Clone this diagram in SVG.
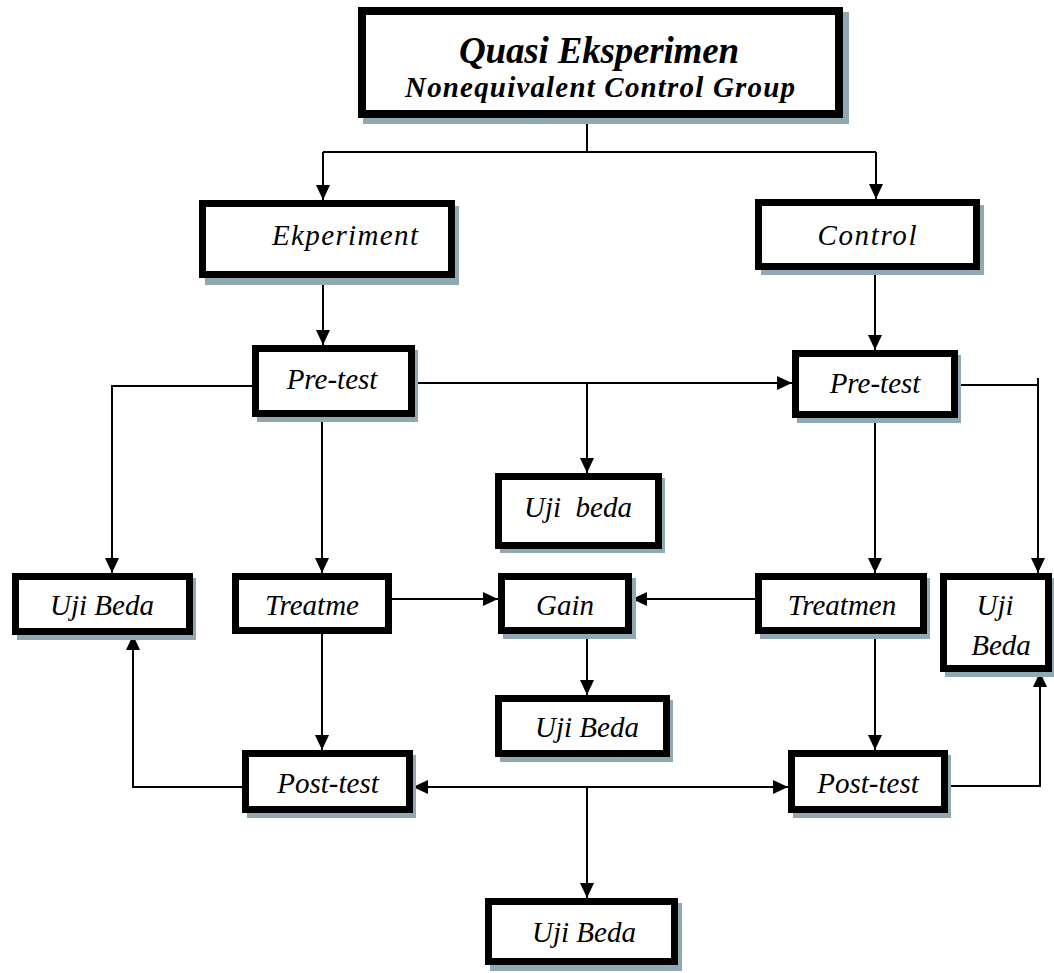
<svg xmlns="http://www.w3.org/2000/svg" width="1054" height="973" viewBox="0 0 1054 973">
<style>
.box{fill:#fff;stroke:#000;stroke-width:7}
.sh{fill:#8fa8b1}
.lbl{font-family:"Liberation Serif","Times New Roman",serif;font-style:italic;font-size:29px;fill:#000}
.ttl{font-family:"Liberation Serif","Times New Roman",serif;font-style:italic;font-weight:bold;fill:#000}
.ln{fill:none;stroke:#000;stroke-width:2}
</style>
<defs>
<marker id="ah" markerUnits="userSpaceOnUse" markerWidth="16" markerHeight="14" refX="15" refY="7" orient="auto-start-reverse">
<path d="M0,0 L15,7 L0,14 z" fill="#000"/>
</marker>
</defs>
<rect width="1054" height="973" fill="#fff"/>

<g id="connectors">
<path class="ln" d="M587,118 V152"/>
<path class="ln" d="M323,152 H876"/>
<path class="ln" d="M323,152 V200" marker-end="url(#ah)"/>
<path class="ln" d="M876,152 V199" marker-end="url(#ah)"/>
<path class="ln" d="M323,278 V345" marker-end="url(#ah)"/>
<path class="ln" d="M875,270 V350" marker-end="url(#ah)"/>
<path class="ln" d="M415,383 H792" marker-end="url(#ah)"/>
<path class="ln" d="M587,383 V473" marker-end="url(#ah)"/>
<path class="ln" d="M252,386 H112 V573" marker-end="url(#ah)"/>
<path class="ln" d="M958,385 H1038 V573" marker-end="url(#ah)"/>
<path class="ln" d="M1038,378 V385"/>
<path class="ln" d="M322,417 V573" marker-end="url(#ah)"/>
<path class="ln" d="M875,418 V573" marker-end="url(#ah)"/>
<path class="ln" d="M392,599 H498" marker-end="url(#ah)"/>
<path class="ln" d="M755,599 H632" marker-end="url(#ah)"/>
<path class="ln" d="M587,624 V695" marker-end="url(#ah)"/>
<path class="ln" d="M322,634 V750" marker-end="url(#ah)"/>
<path class="ln" d="M875,623 V750" marker-end="url(#ah)"/>
<path class="ln" d="M413,787 H788" marker-start="url(#ah)" marker-end="url(#ah)"/>
<path class="ln" d="M587,787 V898" marker-end="url(#ah)"/>
<path class="ln" d="M242,787 H133 V635" marker-end="url(#ah)"/>
<path class="ln" d="M948,786 H1040 V672" marker-end="url(#ah)"/>
</g>

<g id="title">
<rect class="sh" x="363" y="12" width="486" height="112"/>
<rect class="box" x="362" y="11" width="477" height="103" style="stroke-width:8"/>
<text class="ttl" x="599" y="63" font-size="37" text-anchor="middle" textLength="280" lengthAdjust="spacing">Quasi Eksperimen</text>
<text class="ttl" x="600" y="97" font-size="29" text-anchor="middle" textLength="390" lengthAdjust="spacing">Nonequivalent Control Group</text>
</g>

<g id="ekperiment">
<rect class="sh" x="205" y="206" width="254" height="79"/>
<rect class="box" x="202.5" y="203.5" width="249" height="71"/>
<text class="lbl" x="345" y="245" text-anchor="middle" textLength="146" lengthAdjust="spacing">Ekperiment</text>
</g>

<g id="control">
<rect class="sh" x="761" y="205" width="223" height="70"/>
<rect class="box" x="758.5" y="202.5" width="218" height="64"/>
<text class="lbl" x="867" y="245" text-anchor="middle" textLength="99" lengthAdjust="spacing">Control</text>
</g>

<g id="pretest-exp">
<rect class="sh" x="257" y="350" width="161" height="72"/>
<rect class="box" x="255.5" y="348.5" width="156" height="65"/>
<text class="lbl" x="332" y="389" text-anchor="middle">Pre-test</text>
</g>

<g id="pretest-ctrl">
<rect class="sh" x="797" y="355" width="164" height="68"/>
<rect class="box" x="795.5" y="353.5" width="159" height="61"/>
<text class="lbl" x="875" y="393" text-anchor="middle">Pre-test</text>
</g>

<g id="uji-beda-pre">
<rect class="sh" x="500" y="478" width="165" height="75"/>
<rect class="box" x="498.5" y="476.5" width="160" height="69"/>
<text class="lbl" x="578" y="517" text-anchor="middle" xml:space="preserve">Uji  beda</text>
</g>

<g id="uji-beda-exp">
<rect class="sh" x="17" y="578" width="179" height="62"/>
<rect class="box" x="15.5" y="576.5" width="174" height="55"/>
<text class="lbl" x="102" y="615" text-anchor="middle">Uji Beda</text>
</g>

<g id="treatme">
<rect class="box" x="235.5" y="576.5" width="153" height="54"/>
<text class="lbl" x="312" y="615" text-anchor="middle">Treatme</text>
</g>

<g id="gain">
<rect class="sh" x="503" y="578" width="133" height="61"/>
<rect class="box" x="501.5" y="576.5" width="127" height="54"/>
<text class="lbl" x="565" y="615" text-anchor="middle">Gain</text>
</g>

<g id="treatmen">
<rect class="sh" x="760" y="578" width="170" height="61"/>
<rect class="box" x="758.5" y="576.5" width="165" height="54"/>
<text class="lbl" x="842" y="615" text-anchor="middle">Treatmen</text>
</g>

<g id="uji-beda-ctrl">
<rect class="sh" x="945" y="578" width="109" height="99"/>
<rect class="box" x="943.5" y="576.5" width="105" height="92"/>
<text class="lbl" x="995" y="615" text-anchor="middle" font-size="30">Uji</text>
<text class="lbl" x="1001" y="655" text-anchor="middle" font-size="30">Beda</text>
</g>

<g id="uji-beda-gain">
<rect class="sh" x="500" y="700" width="173" height="62"/>
<rect class="box" x="498.5" y="698.5" width="168" height="55"/>
<text class="lbl" x="587" y="737" text-anchor="middle">Uji Beda</text>
</g>

<g id="posttest-exp">
<rect class="sh" x="247" y="755" width="169" height="63"/>
<rect class="box" x="245.5" y="753.5" width="164" height="56"/>
<text class="lbl" x="328" y="793" text-anchor="middle">Post-test</text>
</g>

<g id="posttest-ctrl">
<rect class="sh" x="793" y="755" width="158" height="63"/>
<rect class="box" x="791.5" y="753.5" width="153" height="56"/>
<text class="lbl" x="868" y="793" text-anchor="middle">Post-test</text>
</g>

<g id="uji-beda-post">
<rect class="sh" x="490" y="903" width="192" height="68"/>
<rect class="box" x="488.5" y="901.5" width="186" height="60"/>
<text class="lbl" x="584" y="942" text-anchor="middle">Uji Beda</text>
</g>
</svg>
